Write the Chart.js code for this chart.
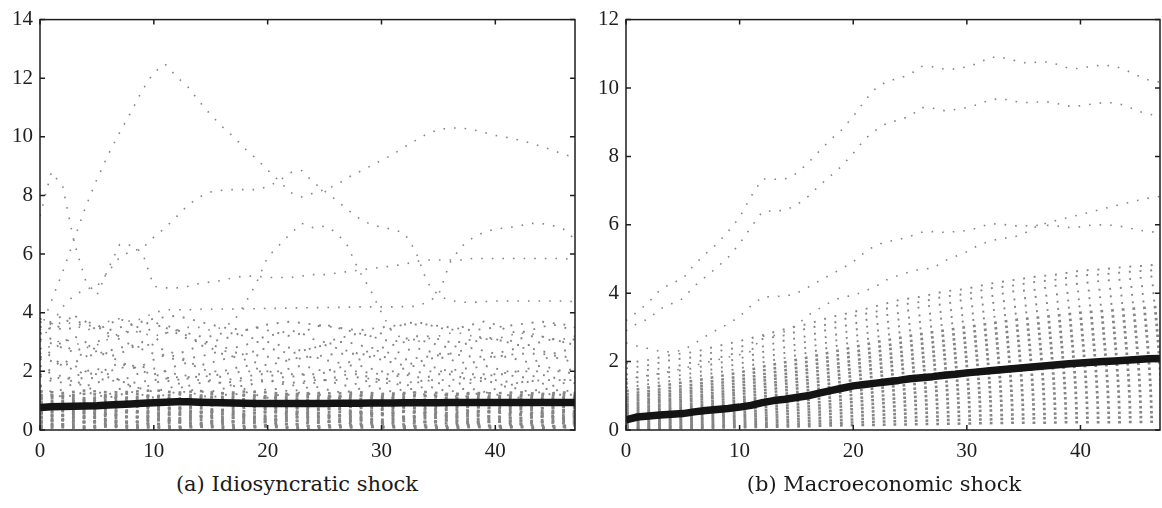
<!DOCTYPE html>
<html>
<head>
<meta charset="utf-8">
<script src="https://cdn.jsdelivr.net/npm/chart.js@4.4.1/dist/chart.umd.min.js"></script>
<style>
  html, body { margin: 0; padding: 0; background: #fff; }
  body { width: 1162px; height: 508px; position: relative; overflow: hidden; }
  canvas { position: absolute; top: 0; }
  #chartA { left: 0; }
  #chartB { left: 586px; }
  .caption {
    position: absolute; top: 472px; width: 360px; text-align: center;
    font-family: 'DejaVu Serif', serif; font-size: 21px; line-height: 24px; color: #1a1a1a;
  }
</style>
</head>
<body>
<canvas id="chartA" width="590" height="470"></canvas>
<canvas id="chartB" width="576" height="470"></canvas>
<div class="caption" style="left:117px">(a) Idiosyncratic shock</div>
<div class="caption" style="left:704px">(b) Macroeconomic shock</div>
<script>
// ---- periods ----
const PERIODS = [0,1,2,3,4,5,6,7,8,9,10,11,12,13,14,15,16,17,18,19,20,21,22,23,24,25,26,27,28,29,30,31,32,33,34,35,36,37,38,39,40,41,42,43,44,45,46,47];
const PERIODS_EVEN = [0,2,4,6,8,10,12,14,16,18,20,22,24,26,28,30,32,34,36,38,40,42,44,46,47];
const X_TICKS = [0,10,20,30,40];
const Y_TICKS_A = [0,2,4,6,8,10,12,14];
const Y_TICKS_B = [0,2,4,6,8,10,12];

// ---- (a) idiosyncratic shock ----
const idioMean = [0.77,0.79,0.8,0.81,0.82,0.83,0.85,0.87,0.89,0.91,0.93,0.95,0.96,0.96,0.95,0.94,0.93,0.92,0.91,0.9,0.9,0.9,0.9,0.9,0.9,0.9,0.91,0.91,0.91,0.92,0.92,0.92,0.93,0.93,0.93,0.93,0.94,0.94,0.94,0.94,0.94,0.94,0.94,0.94,0.94,0.94,0.94,0.94];
const idioPeak = [3.4,4.4,5.4,6.5,7.6,8.55,9.4,10.15,10.85,11.6,12.2,12.48,12.05,11.7,11.2,10.75,10.35,10.0,9.6,9.25,8.87,8.5,8.1,7.95,8.08,8.2,8.35,8.6,8.8,9.0,9.2,9.4,9.65,9.88,10.1,10.25,10.3,10.3,10.25,10.15,10.05,9.98,9.9,9.8,9.68,9.55,9.4,9.3];
const idioSpike = [7.3,8.8,8.3,6.4,5.1,4.6,5.5,6.33,6.3,6.05,4.9,4.85,4.85,4.9,5.0,5.05,5.1,5.2,5.25,5.25,5.2,5.2,5.2,5.25,5.3,5.3,5.35,5.4,5.45,5.5,5.55,5.6,5.65,5.75,5.8,5.8,5.8,5.8,5.85,5.85,5.85,5.85,5.85,5.85,5.85,5.85,5.85,5.8];
const idioPlateau = [3.0,3.6,4.2,4.6,4.8,4.9,5.4,5.9,6.1,6.2,6.58,6.9,7.28,7.67,7.95,8.12,8.18,8.2,8.2,8.2,8.3,8.5,8.78,8.85,8.45,8.15,7.85,7.52,7.23,7.02,6.92,6.84,6.72,6.1,5.05,4.58,4.42,4.36,4.35,4.38,4.4,4.4,4.4,4.4,4.4,4.4,4.4,4.38];
const idioHump = [2.6,2.9,3.1,3.0,2.8,2.9,3.1,3.3,3.4,3.3,3.2,3.3,3.4,3.5,3.5,3.4,3.5,3.7,4.3,5.0,5.9,6.3,6.7,7.05,6.9,6.95,6.75,6.3,5.45,4.8,4.0,3.3,3.1,3.0,3.1,3.2,3.3,3.3,3.2,3.1,3.1,3.2,3.3,3.3,3.2,3.1,3.1,3.2];
const idioShelf = [3.3,3.5,3.7,3.6,3.4,3.5,3.7,3.8,3.7,3.8,4.0,4.1,4.1,4.1,4.12,4.12,4.13,4.13,4.13,4.14,4.15,4.15,4.16,4.17,4.17,4.18,4.18,4.19,4.2,4.2,4.2,4.2,4.21,4.22,4.35,4.6,5.7,6.25,6.55,6.75,6.85,6.9,6.95,7.05,7.05,6.98,6.85,6.5];

const idioMid1 = [3.8,3.6,3.4,3.5,3.7,3.6,3.3,3.2,3.4,3.6,3.7,3.5,3.3,3.1,3.0,3.0,3.1,3.2,3.4,3.5,3.4,3.3,3.2,3.3,3.5,3.6,3.5,3.4,3.3,3.2,3.3,3.5,3.6,3.7,3.6,3.5,3.4,3.5,3.6,3.7,3.6,3.4,3.3,3.4,3.5,3.6,3.5,3.4];
const idioMid2 = [3.3,3.1,2.9,2.7,2.8,3.0,3.2,3.1,2.9,2.8,3.0,3.3,3.4,3.2,3.0,2.9,2.8,2.8,2.9,3.0,3.0,2.9,2.8,2.7,2.8,2.9,3.0,3.0,2.9,2.8,2.8,2.9,3.0,3.1,3.0,2.9,2.8,2.9,3.0,3.1,3.1,3.0,2.9,2.9,3.0,3.1,3.0,2.9];
const idioMid3 = [2.4,2.7,3.0,3.2,3.0,2.7,2.5,2.6,2.8,3.0,2.9,2.7,2.6,2.7,2.9,2.8,2.6,2.5,2.6,2.7,2.8,2.7,2.6,2.7,2.8,2.9,2.8,2.7,2.6,2.7,2.7,2.6,2.7,2.8,2.7,2.6,2.6,2.7,2.8,2.7,2.6,2.7,2.8,2.8,2.7,2.6,2.7,2.8];
const idioMid4 = [2.8,2.5,2.2,2.3,2.5,2.7,2.6,2.3,2.1,2.2,2.4,2.6,2.5,2.3,2.2,2.3,2.4,2.5,2.4,2.3,2.2,2.3,2.4,2.5,2.5,2.4,2.3,2.3,2.4,2.5,2.4,2.3,2.2,2.3,2.4,2.5,2.4,2.3,2.3,2.4,2.5,2.5,2.4,2.3,2.4,2.5,2.4,2.3];
const idioMid5 = [1.8,2.1,2.4,2.2,2.0,1.9,2.1,2.3,2.2,2.0,1.9,2.0,2.2,2.3,2.1,2.0,2.0,2.1,2.2,2.1,2.0,2.0,2.1,2.2,2.1,2.0,2.1,2.2,2.2,2.1,2.0,2.0,2.1,2.2,2.2,2.1,2.0,2.1,2.1,2.2,2.1,2.0,2.0,2.1,2.2,2.1,2.0,2.1];
const idioMid6 = [2.2,1.9,1.7,1.8,2.0,2.1,1.9,1.7,1.8,2.0,1.9,1.8,1.7,1.8,1.9,1.9,1.8,1.7,1.8,1.9,1.9,1.8,1.8,1.9,1.8,1.7,1.8,1.9,1.9,1.8,1.7,1.8,1.9,1.8,1.8,1.9,1.9,1.8,1.7,1.8,1.9,1.9,1.8,1.8,1.9,1.8,1.7,1.8];
const idioMid7 = [1.5,1.7,1.9,1.7,1.5,1.6,1.8,1.7,1.5,1.4,1.6,1.7,1.6,1.5,1.6,1.7,1.6,1.5,1.5,1.6,1.7,1.6,1.5,1.6,1.6,1.7,1.6,1.5,1.6,1.7,1.6,1.6,1.5,1.6,1.7,1.6,1.5,1.6,1.6,1.7,1.6,1.5,1.6,1.7,1.6,1.5,1.6,1.6];
const idioMid8 = [1.3,1.2,1.4,1.6,1.5,1.3,1.2,1.4,1.5,1.4,1.3,1.4,1.5,1.4,1.3,1.3,1.4,1.5,1.4,1.3,1.4,1.4,1.3,1.4,1.5,1.4,1.3,1.3,1.4,1.5,1.4,1.3,1.4,1.4,1.5,1.4,1.3,1.4,1.4,1.3,1.4,1.5,1.4,1.3,1.4,1.4,1.3,1.4];
const idioMid9 = [3.7,3.4,3.6,3.9,3.7,3.4,3.6,3.8,3.6,3.3,3.5,3.6,3.4,3.3,3.2,3.2,3.3,3.3,3.2,3.1,3.2,3.3,3.4,3.3,3.1,3.0,3.1,3.2,3.3,3.2,3.1,3.0,3.1,3.2,3.2,3.1,3.0,3.0,3.1,3.2,3.1,3.0,3.1,3.2,3.2,3.1,3.0,3.1];
const idioMid10 = [1.5,1.3,1.1,1.2,1.3,1.2,1.1,1.2,1.3,1.2,1.1,1.2,1.3,1.3,1.2,1.1,1.2,1.2,1.3,1.2,1.1,1.2,1.2,1.3,1.2,1.2,1.1,1.2,1.3,1.2,1.2,1.1,1.2,1.3,1.2,1.2,1.2,1.1,1.2,1.3,1.2,1.2,1.1,1.2,1.3,1.2,1.2,1.2];

// sampled every second period
const idioMid11 = [3.1,2.8,2.5,2.7,2.9,2.6,2.4,2.5,2.7,2.6,2.5,2.4,2.5,2.6,2.6,2.5,2.4,2.5,2.6,2.5,2.5,2.6,2.6,2.5,2.5];
const idioMid12 = [2.5,2.2,1.9,2.0,2.2,2.1,1.9,1.8,1.9,2.0,2.0,1.9,1.9,2.0,2.0,1.9,1.9,2.0,2.0,1.9,1.9,2.0,2.0,2.0,1.9];
const idioMid13 = [3.5,3.9,3.6,3.4,3.6,3.8,3.9,3.7,3.5,3.4,3.6,3.7,3.6,3.5,3.4,3.5,3.6,3.6,3.5,3.4,3.5,3.6,3.7,3.6,3.5];
const idioMid14 = [1.9,1.6,1.8,1.7,1.6,1.7,1.8,1.7,1.6,1.7,1.7,1.6,1.7,1.7,1.8,1.7,1.6,1.7,1.7,1.8,1.7,1.6,1.7,1.7,1.7];

const idioLow1 = [.06,.1,.05,.12,.07,.09,.05,.11,.08,.06,.12,.07,.05,.1,.08,.12,.06,.09,.05,.11,.07,.1,.06,.09,.08];
const idioLow2 = [.15,.2,.12,.18,.14,.22,.11,.17,.2,.13,.16,.21,.12,.18,.15,.2,.11,.17,.14,.21,.13,.19,.16,.12,.15];
const idioLow3 = [.24,.18,.28,.22,.3,.2,.26,.19,.29,.23,.27,.18,.25,.3,.21,.26,.19,.28,.22,.25,.3,.2,.27,.23,.22];
const idioLow4 = [.3,.36,.28,.34,.26,.38,.31,.35,.27,.33,.37,.29,.35,.28,.36,.31,.38,.27,.34,.3,.36,.29,.33,.37,.31];
const idioLow5 = [.4,.35,.44,.37,.46,.39,.34,.43,.38,.45,.36,.42,.47,.37,.41,.35,.44,.39,.46,.36,.43,.38,.45,.4,.39];
const idioLow6 = [.45,.52,.47,.55,.44,.5,.56,.46,.53,.48,.43,.54,.49,.46,.52,.57,.45,.51,.47,.55,.44,.53,.48,.5,.47];
const idioLow7 = [.56,.5,.6,.53,.62,.55,.51,.61,.57,.52,.63,.55,.58,.5,.6,.54,.62,.56,.51,.59,.64,.53,.57,.6,.55];
const idioLow8 = [.6,.67,.63,.7,.6,.66,.72,.62,.68,.64,.71,.6,.67,.73,.62,.69,.65,.61,.7,.66,.63,.71,.64,.68,.65];
const idioLow9 = [.72,.78,.69,.76,.82,.71,.77,.74,.68,.8,.75,.79,.7,.76,.81,.73,.78,.69,.75,.8,.72,.77,.74,.79,.76];
const idioLow10 = [.82,.88,.8,.9,.85,.79,.92,.84,.89,.81,.87,.93,.83,.88,.8,.9,.86,.82,.91,.84,.88,.81,.9,.85,.87];
const idioLow11 = [.9,.96,1.02,.93,.99,1.05,.95,1.0,.92,1.04,.97,.91,1.01,.95,1.03,.93,.98,1.04,.94,1.0,.96,1.02,.93,.99,.97];
const idioLow12 = [1.05,1.1,1.0,1.12,1.06,1.14,1.03,1.09,1.13,1.04,1.11,1.07,1.02,1.1,1.05,1.12,1.06,1.01,1.09,1.04,1.11,1.07,1.02,1.08,1.06];
const idioLow13 = [1.2,1.16,1.24,1.18,1.25,1.14,1.22,1.17,1.26,1.2,1.15,1.23,1.18,1.14,1.2,1.16,1.22,1.15,1.19,1.23,1.14,1.2,1.17,1.21,1.18];
const idioLow14 = [1.32,1.26,1.35,1.28,1.3,1.36,1.27,1.33,1.25,1.31,1.28,1.22,1.27,1.24,1.29,1.23,1.26,1.3,1.22,1.27,1.25,1.29,1.23,1.28,1.26];
const idioLow15 = [.1,.14,.09,.16,.11,.13,.08,.15,.12,.1,.16,.09,.13,.11,.15,.08,.14,.12,.09,.16,.11,.13,.1,.15,.12];
const idioLow16 = [.27,.33,.25,.31,.23,.34,.28,.24,.32,.26,.3,.35,.24,.29,.33,.25,.31,.27,.34,.23,.29,.32,.26,.3,.28];
const idioLow17 = [.43,.48,.4,.5,.42,.47,.39,.49,.44,.41,.5,.45,.4,.48,.43,.51,.42,.46,.39,.49,.44,.41,.47,.43,.45];
const idioLow18 = [.58,.64,.56,.62,.67,.57,.63,.59,.66,.55,.61,.65,.57,.63,.59,.54,.64,.6,.57,.66,.58,.62,.55,.63,.6];
const idioLow19 = [.75,.82,.77,.73,.84,.78,.74,.81,.86,.76,.8,.72,.79,.85,.75,.81,.77,.74,.83,.78,.76,.84,.73,.8,.78];
const idioLow20 = [.96,1.0,.93,1.03,.97,.92,1.01,.96,1.05,.94,.99,1.04,.95,1.0,.93,1.02,.97,.94,1.03,.98,.92,1.01,.96,1.0,.97];
const idioLow21 = [1.12,1.17,1.08,1.15,1.1,1.19,1.07,1.14,1.11,1.18,1.09,1.15,1.12,1.07,1.16,1.1,1.13,1.18,1.08,1.14,1.1,1.16,1.09,1.13,1.11];

// ---- (b) macroeconomic shock ----
const macroMean = [0.3,0.38,0.41,0.44,0.46,0.48,0.53,0.57,0.6,0.63,0.67,0.72,0.8,0.86,0.9,0.95,1.0,1.08,1.15,1.22,1.29,1.33,1.37,1.41,1.45,1.5,1.53,1.56,1.6,1.63,1.67,1.7,1.73,1.76,1.79,1.82,1.85,1.88,1.91,1.94,1.96,1.98,2.0,2.02,2.04,2.06,2.08,2.09];
const macroTop1 = [3.2,3.46,3.74,4.1,4.29,4.42,4.83,5.15,5.44,5.81,6.22,6.83,7.34,7.33,7.34,7.5,7.8,8.15,8.49,8.78,9.17,9.62,10.0,10.2,10.28,10.4,10.63,10.62,10.55,10.56,10.62,10.72,10.9,10.9,10.82,10.74,10.75,10.76,10.69,10.57,10.57,10.64,10.67,10.64,10.52,10.37,10.23,10.17];
const macroTop2 = [2.9,3.12,3.25,3.54,3.69,3.84,4.2,4.48,4.75,5.05,5.45,5.93,6.38,6.41,6.42,6.58,6.82,7.14,7.43,7.72,8.09,8.5,8.77,8.98,9.06,9.18,9.43,9.41,9.34,9.37,9.43,9.52,9.65,9.69,9.62,9.57,9.59,9.6,9.54,9.47,9.48,9.53,9.57,9.57,9.48,9.33,9.24,9.17];
const macroTop3 = [2.55,2.45,2.38,2.3,2.28,2.33,2.52,2.74,2.93,3.1,3.32,3.63,3.88,3.91,3.91,4.0,4.17,4.36,4.54,4.72,4.92,5.19,5.41,5.51,5.57,5.66,5.78,5.8,5.78,5.8,5.83,5.91,6.03,6.02,5.97,5.97,5.98,5.99,5.96,5.92,5.94,5.99,6.0,5.98,5.93,5.85,5.8,5.78];
const macroTop4 = [1.4,1.55,1.6,1.65,1.72,1.8,1.88,1.97,2.05,2.13,2.2,2.3,2.74,2.76,2.88,3.06,3.35,3.55,3.74,3.89,3.93,4.06,4.2,4.4,4.52,4.63,4.7,4.73,4.94,5.08,5.21,5.4,5.52,5.6,5.63,5.74,5.93,6.05,6.14,6.22,6.3,6.38,6.47,6.55,6.63,6.71,6.78,6.83];

// sampled every second period
const macroFan1 = [1.95,2.05,2.2,2.28,2.45,2.6,2.77,2.95,3.1,3.3,3.45,3.62,3.8,3.9,4.05,4.13,4.28,4.38,4.48,4.55,4.66,4.7,4.77,4.81,4.85];
const macroFan2 = [1.8,1.9,2.05,2.13,2.3,2.42,2.66,2.77,2.98,3.1,3.33,3.46,3.65,3.75,3.9,3.98,4.14,4.22,4.33,4.4,4.52,4.55,4.62,4.66,4.7];
const macroFan3 = [1.62,1.76,1.83,1.99,2.1,2.28,2.44,2.62,2.75,2.96,3.1,3.31,3.42,3.6,3.68,3.83,3.9,4.05,4.1,4.23,4.28,4.37,4.4,4.48,4.5];
const macroFan4 = [1.48,1.59,1.7,1.81,1.95,2.09,2.28,2.42,2.59,2.75,2.92,3.09,3.23,3.36,3.47,3.59,3.7,3.81,3.89,3.97,4.06,4.11,4.17,4.22,4.25];
const macroFan5 = [1.35,1.46,1.56,1.67,1.8,1.94,2.12,2.26,2.42,2.58,2.74,2.9,3.03,3.17,3.27,3.38,3.49,3.59,3.67,3.75,3.83,3.89,3.94,3.99,4.02];
const macroFan6 = [1.24,1.34,1.44,1.55,1.68,1.8,1.98,2.11,2.26,2.42,2.57,2.72,2.85,2.98,3.08,3.19,3.29,3.39,3.47,3.54,3.62,3.67,3.72,3.77,3.8];
const macroFan7 = [1.14,1.24,1.34,1.44,1.56,1.68,1.85,1.98,2.12,2.27,2.42,2.57,2.69,2.81,2.91,3.01,3.11,3.21,3.28,3.35,3.43,3.48,3.53,3.58,3.6];
const macroFan8 = [1.05,1.14,1.24,1.33,1.45,1.57,1.74,1.86,2.0,2.14,2.28,2.42,2.54,2.66,2.76,2.85,2.95,3.04,3.11,3.18,3.25,3.3,3.35,3.4,3.42];
const macroFan9 = [.97,1.06,1.15,1.24,1.36,1.47,1.63,1.75,1.88,2.02,2.16,2.29,2.41,2.52,2.61,2.7,2.79,2.89,2.95,3.02,3.09,3.14,3.18,3.23,3.25];
const macroFan10 = [.9,.99,1.07,1.16,1.27,1.38,1.53,1.64,1.77,1.9,2.03,2.16,2.27,2.38,2.47,2.56,2.64,2.73,2.8,2.86,2.93,2.97,3.01,3.06,3.08];
const macroFan11 = [.83,.91,1.0,1.08,1.19,1.29,1.44,1.54,1.67,1.79,1.92,2.04,2.15,2.25,2.33,2.42,2.5,2.59,2.65,2.71,2.77,2.82,2.86,2.9,2.92];
const macroFan12 = [.76,.84,.92,1.0,1.1,1.2,1.34,1.44,1.56,1.68,1.8,1.92,2.02,2.12,2.2,2.28,2.36,2.44,2.5,2.56,2.62,2.66,2.7,2.74,2.76];
const macroFan13 = [.7,.78,.85,.93,1.02,1.12,1.25,1.35,1.46,1.57,1.69,1.8,1.9,1.99,2.07,2.14,2.22,2.3,2.35,2.41,2.47,2.51,2.54,2.58,2.6];
const macroFan14 = [.64,.71,.78,.86,.95,1.04,1.16,1.25,1.36,1.47,1.58,1.68,1.77,1.86,1.94,2.01,2.08,2.15,2.21,2.26,2.31,2.35,2.39,2.42,2.44];
const macroFan15 = [.58,.65,.72,.78,.87,.95,1.07,1.16,1.26,1.36,1.46,1.57,1.65,1.74,1.8,1.87,1.94,2.01,2.06,2.11,2.16,2.2,2.23,2.26,2.28];
const macroFan16 = [.52,.58,.65,.71,.79,.87,.98,1.06,1.16,1.26,1.35,1.45,1.53,1.61,1.67,1.74,1.8,1.86,1.91,1.96,2.01,2.04,2.07,2.1,2.12];
const macroFan17 = [.47,.53,.59,.65,.72,.8,.9,.98,1.07,1.16,1.24,1.33,1.41,1.48,1.54,1.6,1.66,1.72,1.77,1.81,1.86,1.89,1.92,1.95,1.96];
const macroFan18 = [.42,.48,.53,.59,.65,.72,.82,.89,.97,1.05,1.14,1.22,1.29,1.36,1.41,1.47,1.52,1.58,1.62,1.66,1.7,1.73,1.76,1.79,1.8];
const macroFan19 = [.37,.42,.47,.52,.59,.65,.74,.8,.88,.95,1.03,1.11,1.17,1.23,1.28,1.34,1.39,1.44,1.47,1.51,1.55,1.58,1.6,1.63,1.64];
const macroFan20 = [.32,.37,.41,.46,.52,.58,.66,.71,.78,.85,.92,.99,1.05,1.11,1.16,1.2,1.25,1.29,1.33,1.36,1.4,1.42,1.45,1.47,1.48];
const macroFan21 = [.27,.31,.35,.4,.45,.5,.57,.63,.69,.75,.82,.88,.93,.98,1.03,1.07,1.11,1.15,1.18,1.22,1.25,1.27,1.29,1.31,1.32];
const macroFan22 = [.23,.27,.3,.34,.39,.43,.5,.55,.6,.66,.71,.77,.82,.86,.9,.94,.97,1.01,1.04,1.07,1.09,1.11,1.13,1.15,1.16];
const macroFan23 = [.19,.22,.25,.29,.33,.37,.42,.47,.51,.56,.61,.66,.7,.74,.77,.81,.84,.87,.89,.92,.94,.96,.98,.99,1.0];
const macroFan24 = [.15,.18,.21,.23,.27,.3,.35,.38,.43,.47,.51,.55,.58,.62,.65,.67,.7,.73,.75,.77,.79,.81,.82,.83,.84];
const macroFan25 = [.11,.13,.16,.18,.21,.24,.28,.3,.34,.37,.41,.44,.47,.5,.52,.54,.57,.59,.61,.62,.64,.65,.66,.67,.68];
const macroFan26 = [.08,.1,.12,.13,.15,.18,.21,.23,.26,.28,.31,.34,.36,.38,.4,.41,.43,.45,.46,.48,.49,.5,.51,.52,.52];
const macroFan27 = [.05,.06,.08,.09,.11,.12,.15,.16,.18,.2,.22,.24,.26,.27,.29,.3,.31,.33,.34,.35,.36,.36,.37,.38,.38];
const macroFan28 = [.03,.04,.05,.06,.07,.08,.09,.1,.11,.13,.14,.15,.16,.17,.18,.19,.2,.21,.21,.22,.23,.23,.23,.24,.24];

// ---- styling ----
const DOT_GREY = '#858585';
const MEAN_BLACK = '#141414';
const AXIS_INK = '#1e1e1e';
const TICK_FONT = { family: "'Liberation Serif', 'Times New Roman', serif", size: 21 };
const FINE_DOTS = { width: 1.6, dash: [1.6, 9.0] };
const MID_DOTS = { width: 1.9, dash: [1.9, 8.8] };
const HEAVY_DOTS = { width: 2.5, dash: [2.8, 7.9] };

function toPoints(xs, ys) { return ys.map((v, i) => ({ x: xs[i], y: v })); }

function dottedLine(xs, ys, style) {
  return {
    data: toPoints(xs, ys), borderColor: DOT_GREY, borderWidth: style.width,
    borderDash: style.dash, borderCapStyle: 'butt',
    pointRadius: 0, tension: 0, fill: false, clip: 0
  };
}

function meanLine(ys) {
  return {
    data: toPoints(PERIODS, ys), borderColor: MEAN_BLACK, borderWidth: 7.5,
    borderCapStyle: 'butt', borderJoinStyle: 'round',
    pointRadius: 0, tension: 0, fill: false, clip: 0
  };
}

// box around the plot area with inward ticks on all four sides
const boxedAxes = {
  id: 'boxedAxes',
  afterDatasetsDraw(chart) {
    const { ctx, chartArea: a, scales: { x, y } } = chart;
    const len = 5;
    ctx.save();
    ctx.strokeStyle = AXIS_INK;
    ctx.lineWidth = 1.5;
    ctx.strokeRect(a.left, a.top, a.right - a.left, a.bottom - a.top);
    ctx.beginPath();
    x.ticks.forEach(t => {
      const px = x.getPixelForValue(t.value);
      ctx.moveTo(px, a.bottom); ctx.lineTo(px, a.bottom - len);
      ctx.moveTo(px, a.top); ctx.lineTo(px, a.top + len);
    });
    y.ticks.forEach(t => {
      const py = y.getPixelForValue(t.value);
      ctx.moveTo(a.left, py); ctx.lineTo(a.left + len, py);
      ctx.moveTo(a.right, py); ctx.lineTo(a.right - len, py);
    });
    ctx.stroke();
    ctx.restore();
  }
};

function panelOptions(yMax, yTicks, rightPad) {
  return {
    responsive: false, animation: false, devicePixelRatio: 1,
    layout: { padding: { top: 10, right: rightPad, left: 0, bottom: 0 } },
    plugins: { legend: { display: false }, tooltip: { enabled: false } },
    scales: {
      x: {
        type: 'linear', min: 0, max: 47,
        afterBuildTicks: s => { s.ticks = X_TICKS.map(v => ({ value: v })); },
        afterFit: s => { s.height = 40; },
        grid: { display: false, drawTicks: false }, border: { display: false },
        ticks: { font: TICK_FONT, color: AXIS_INK, padding: 9, maxRotation: 0, autoSkip: false }
      },
      y: {
        type: 'linear', min: 0, max: yMax,
        afterBuildTicks: s => { s.ticks = yTicks.map(v => ({ value: v })); },
        afterFit: s => { s.width = 40; },
        grid: { display: false, drawTicks: false }, border: { display: false },
        ticks: { font: TICK_FONT, color: AXIS_INK, padding: 7, autoSkip: false }
      }
    }
  };
}

// ---- panel (a) ----
const idioUpper = [idioPeak, idioSpike, idioPlateau, idioHump, idioShelf];
const idioMidFull = [idioMid1, idioMid2, idioMid3, idioMid4, idioMid5, idioMid6, idioMid7, idioMid8, idioMid9, idioMid10];
const idioMidEven = [idioMid11, idioMid12, idioMid13, idioMid14];
const idioLow = [idioLow1, idioLow15, idioLow2, idioLow3, idioLow16, idioLow4, idioLow5, idioLow17, idioLow6,
  idioLow7, idioLow18, idioLow8, idioLow9, idioLow19, idioLow10, idioLow11, idioLow20, idioLow12,
  idioLow21, idioLow13, idioLow14];

const setsA = [meanLine(idioMean)]
  .concat(idioUpper.map(s => dottedLine(PERIODS, s, FINE_DOTS)))
  .concat(idioMidFull.map(s => dottedLine(PERIODS, s, MID_DOTS)))
  .concat(idioMidEven.map(s => dottedLine(PERIODS_EVEN, s, MID_DOTS)))
  .concat(idioLow.map(s => dottedLine(PERIODS_EVEN, s, HEAVY_DOTS)));

new Chart(document.getElementById('chartA'), {
  type: 'line',
  data: { datasets: setsA },
  options: panelOptions(14, Y_TICKS_A, 15),
  plugins: [boxedAxes]
});

// ---- panel (b) ----
const macroUpper = [macroTop1, macroTop2, macroTop3, macroTop4];
const macroFan = [macroFan1, macroFan2, macroFan3, macroFan4, macroFan5, macroFan6, macroFan7,
  macroFan8, macroFan9, macroFan10, macroFan11, macroFan12, macroFan13, macroFan14,
  macroFan15, macroFan16, macroFan17, macroFan18, macroFan19, macroFan20, macroFan21,
  macroFan22, macroFan23, macroFan24, macroFan25, macroFan26, macroFan27, macroFan28];

const setsB = [meanLine(macroMean)]
  .concat(macroUpper.map(s => dottedLine(PERIODS, s, FINE_DOTS)))
  .concat(macroFan.map((s, i) => dottedLine(PERIODS_EVEN, s, i < 6 ? MID_DOTS : HEAVY_DOTS)));

new Chart(document.getElementById('chartB'), {
  type: 'line',
  data: { datasets: setsB },
  options: panelOptions(12, Y_TICKS_B, 2),
  plugins: [boxedAxes]
});
</script>
</body>
</html>
